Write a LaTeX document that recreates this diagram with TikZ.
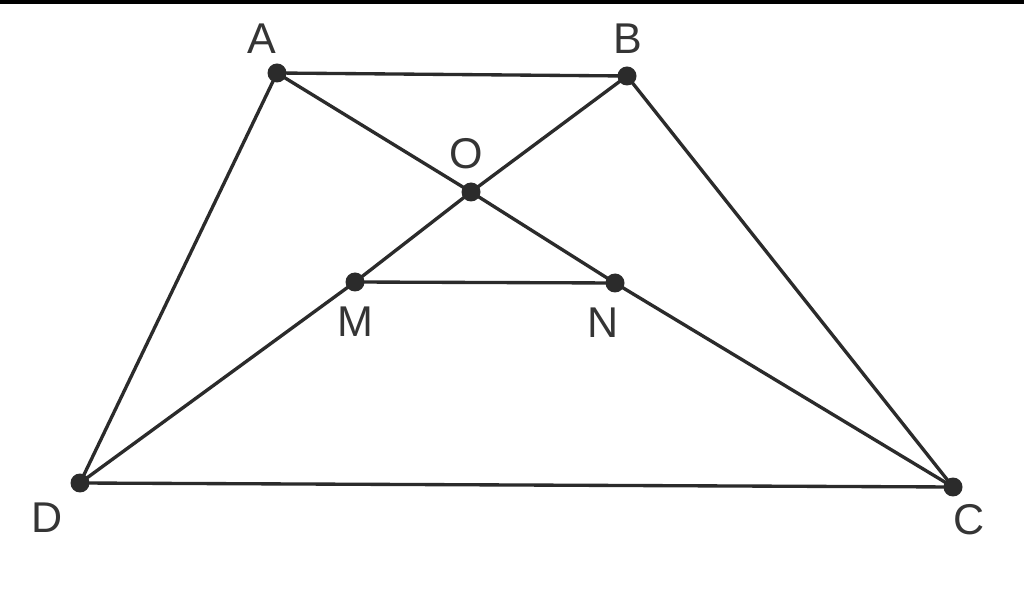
\documentclass[tikz,border=0pt]{standalone}
\usepackage{fontspec}
\setmainfont{Liberation Sans}
\definecolor{ink}{HTML}{2B2B2B}
\definecolor{txt}{HTML}{353535}
\begin{document}
\begin{tikzpicture}[x=0.02cm,y=-0.02cm,
  seg/.style={draw=ink,line width=1.9pt},
  pt/.style={circle,fill=ink,inner sep=0pt,minimum size=0.38cm},
  lbl/.style={text=txt,font=\fontsize{24.5}{24.5}\selectfont,inner sep=0pt}]
\useasboundingbox (0,0) rectangle (1024,597);
\fill[white] (0,0) rectangle (1024,597);
\fill[black] (0,0) rectangle (1024,4);
\coordinate (A) at (277,73);
\coordinate (B) at (627,76);
\coordinate (O) at (471,192);
\coordinate (M) at (355,282);
\coordinate (N) at (615,283);
\coordinate (D) at (80,483);
\coordinate (C) at (953,487);
\draw[seg] (A) -- (B) -- (C) -- (D) -- cycle;
\draw[seg] (A) -- (O) -- (N) -- (C);
\draw[seg] (B) -- (O) -- (M) -- (D);
\draw[seg] (M) -- (N);
\foreach \p in {A,B,O,M,N,D,C} \node[pt] (d\p) at (\p) {};
\node[lbl] (lA) at (262,39) {A};
\node[lbl] (lB) at (628,39) {B};
\node[lbl] (lO) at (466,154) {O};
\node[lbl] (lM) at (355,322) {M};
\node[lbl] (lN) at (603,323) {N};
\node[lbl] (lD) at (47,518) {D};
\node[lbl] (lC) at (969,520) {C};
\end{tikzpicture}
\end{document}
